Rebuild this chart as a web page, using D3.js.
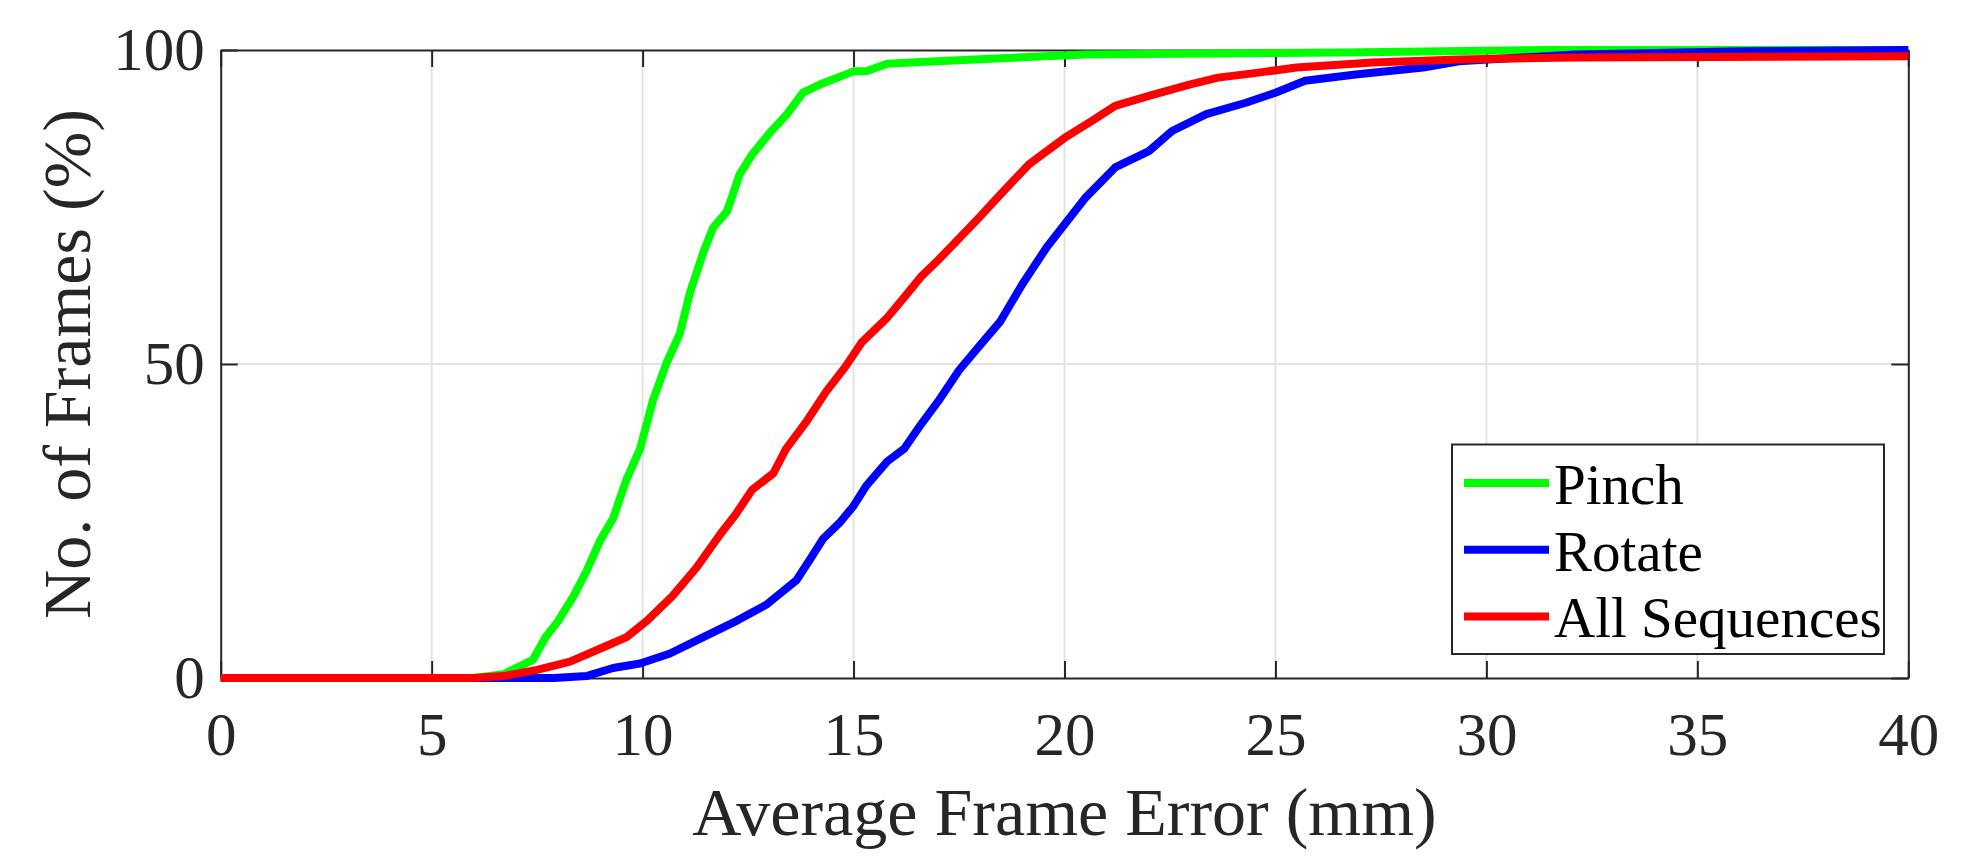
<!DOCTYPE html>
<html>
<head>
<meta charset="utf-8">
<script src="https://cdn.jsdelivr.net/npm/d3@7"></script>
<style>
  html, body { margin: 0; padding: 0; background: #fff; }
  svg { display: block; }
</style>
</head>
<body>
<svg id="chart" width="1966" height="858"></svg>
<script>
// ---- data ----
const xTicks = [0, 5, 10, 15, 20, 25, 30, 35, 40];
const yTicks = [0, 50, 100];
const seriesNames = ["Pinch", "Rotate", "All Sequences"];
const seriesColors = ["#00ff00", "#0000ff", "#ff0000"];

const pinchX = [0, 6.0, 6.7, 7.4, 7.7, 8.0, 8.36, 8.67, 9.0, 9.3, 9.6, 9.94, 10.25, 10.57, 10.88, 11.12, 11.44, 11.67, 12.0, 12.3, 12.6, 13.0, 13.4, 13.8, 14.2, 15.0, 15.3, 15.8, 16.6, 18.5, 20.5, 26.6, 31.4, 40];
const pinchY = [0, 0, 0.6, 2.9, 6.5, 9.1, 13, 17, 22, 25.4, 31.3, 36.5, 44.3, 50.2, 54.8, 61.3, 67.8, 71.7, 74.3, 80.2, 83.4, 86.7, 89.6, 93.2, 94.5, 96.6, 96.6, 97.8, 98.1, 98.7, 99.3, 99.6, 100, 100];

const rotateX = [0, 7.9, 8.67, 9.3, 9.94, 10.65, 11.44, 12.23, 12.94, 13.65, 13.97, 14.28, 14.68, 15.0, 15.3, 15.8, 16.2, 16.6, 17.0, 17.5, 18.0, 18.48, 19.0, 19.57, 20.0, 20.5, 21.2, 22.0, 22.55, 23.36, 24.3, 25.0, 25.7, 26.9, 28.5, 29.35, 32.1, 36.1, 40];
const rotateY = [0, 0, 0.3, 1.6, 2.3, 3.9, 6.5, 9.1, 11.7, 15.6, 18.9, 22.2, 24.8, 27.4, 30.6, 34.5, 36.5, 40.4, 44, 49, 53, 56.8, 62.7, 68.5, 72.2, 76.5, 81.3, 83.9, 87.1, 89.8, 91.6, 93.2, 95.1, 96.1, 97.2, 98.2, 99.3, 99.8, 100];

const allX = [0, 6.0, 6.7, 7.5, 8.28, 9.07, 9.62, 10.1, 10.7, 11.28, 11.83, 12.2, 12.6, 13.1, 13.4, 13.9, 14.35, 14.8, 15.2, 15.8, 16.2, 16.6, 17.0, 17.5, 18.0, 18.48, 19.16, 20.0, 20.65, 21.2, 22.0, 22.96, 23.64, 24.6, 25.5, 27.3, 29.35, 32.1, 40];
const allY = [0, 0, 0.3, 1.3, 2.6, 4.9, 6.5, 9.1, 13, 17.6, 22.8, 26, 30, 32.6, 36.5, 41, 45.6, 49.5, 53.5, 57.4, 60.6, 63.9, 66.5, 70, 73.5, 77, 81.8, 86, 88.7, 91.1, 92.7, 94.5, 95.6, 96.4, 97.2, 98.0, 98.5, 98.8, 99.0];

const xLabel = "Average Frame Error (mm)";
const yLabel = "No. of Frames (%)";

// ---- layout ----
const W = 1966, H = 858;
const L = 220.7, R = 1908.3, T = 50, B = 678;
const FONT = "'Liberation Serif', 'Times New Roman', serif";
const AX = "#262626";

const svg = d3.select("#chart");
const x = d3.scaleLinear().domain([0, 40]).range([L, R]);
const y = d3.scaleLinear().domain([0, 100]).range([B, T]);

// grid
const grid = svg.append("g");
grid.selectAll("line.gx").data(xTicks.slice(1, -1)).enter().append("line")
  .attr("x1", d => x(d)).attr("x2", d => x(d)).attr("y1", T).attr("y2", B)
  .attr("stroke", "#e3e3e3").attr("stroke-width", 2);
grid.selectAll("line.gy").data(yTicks.slice(1, -1)).enter().append("line")
  .attr("y1", d => y(d)).attr("y2", d => y(d)).attr("x1", L).attr("x2", R)
  .attr("stroke", "#e3e3e3").attr("stroke-width", 2);

// axes
function styleAxis(g) {
  g.select(".domain").attr("stroke", AX).attr("stroke-width", 2);
  g.selectAll(".tick line").attr("stroke", AX).attr("stroke-width", 2);
  g.selectAll(".tick text").attr("fill", AX).attr("font-family", FONT).attr("font-size", 61);
}
const TL = 17;
svg.append("g").attr("transform", `translate(0,${B})`)
  .call(d3.axisBottom(x).tickValues(xTicks).tickSize(-TL).tickSizeOuter(0).tickPadding(34).tickFormat(d3.format("d")))
  .call(styleAxis);
svg.append("g").attr("transform", `translate(0,${T})`)
  .call(d3.axisTop(x).tickValues(xTicks).tickSize(-TL).tickSizeOuter(0).tickFormat(""))
  .call(styleAxis);
svg.append("g").attr("transform", `translate(${L},0)`)
  .call(d3.axisLeft(y).tickValues(yTicks).tickSize(-TL).tickSizeOuter(0).tickPadding(16).tickFormat(d3.format("d")))
  .call(styleAxis);
svg.append("g").attr("transform", `translate(${R},0)`)
  .call(d3.axisRight(y).tickValues(yTicks).tickSize(-TL).tickSizeOuter(0).tickFormat(""))
  .call(styleAxis);

// lines
const series = [
  { name: seriesNames[0], color: seriesColors[0], xs: pinchX, ys: pinchY },
  { name: seriesNames[1], color: seriesColors[1], xs: rotateX, ys: rotateY },
  { name: seriesNames[2], color: seriesColors[2], xs: allX, ys: allY }
];
const line = d3.line().x(d => x(d[0])).y(d => y(d[1]));
series.forEach(s => {
  svg.append("path")
    .datum(s.xs.map((v, i) => [v, s.ys[i]]))
    .attr("d", line)
    .attr("fill", "none")
    .attr("stroke", s.color)
    .attr("stroke-width", 8)
    .attr("stroke-linejoin", "round");
});

// axis labels
svg.append("text")
  .attr("x", (L + R) / 2).attr("y", 835)
  .attr("text-anchor", "middle")
  .attr("font-family", FONT).attr("font-size", 68).attr("fill", AX)
  .text(xLabel);
svg.append("text")
  .attr("transform", `translate(90,${(T + B) / 2}) rotate(-90)`)
  .attr("text-anchor", "middle")
  .attr("font-family", FONT).attr("font-size", 68).attr("fill", AX)
  .text(yLabel);

// legend
const lg = svg.append("g");
lg.append("rect").attr("x", 1452).attr("y", 444.5).attr("width", 432).attr("height", 209.5)
  .attr("fill", "#fff").attr("stroke", AX).attr("stroke-width", 2);
series.forEach((s, i) => {
  const cy = 483 + i * 66.7;
  lg.append("line").attr("x1", 1464).attr("x2", 1549).attr("y1", cy).attr("y2", cy)
    .attr("stroke", s.color).attr("stroke-width", 8);
  lg.append("text").attr("x", 1554).attr("y", cy + 21)
    .attr("font-family", FONT).attr("font-size", 57).attr("fill", "#000")
    .text(s.name);
});
</script>
</body>
</html>
